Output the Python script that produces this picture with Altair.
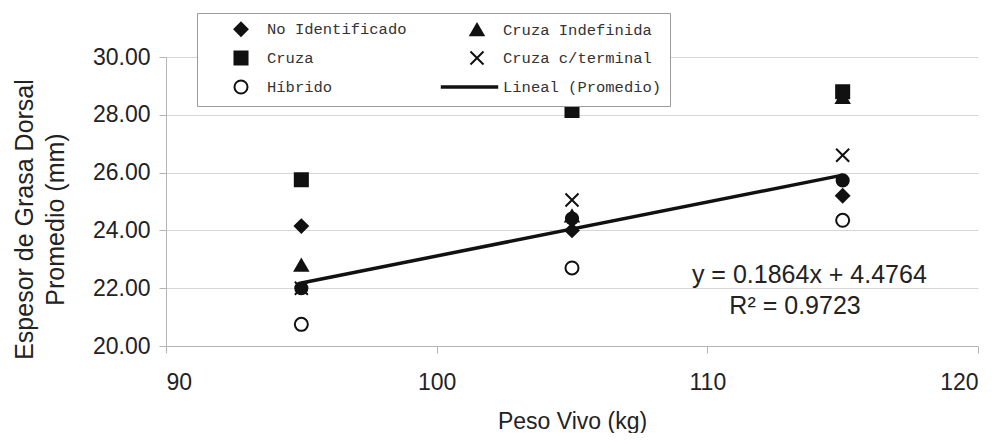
import altair as alt
import pandas as pd

# ---------------- data ----------------
peso = [95, 105, 115]
no_identificado = [24.15, 24.0, 25.2]
cruza_indefinida = [22.8, 24.5, 28.6]
cruza = [25.75, 28.15, 28.8]
cruza_terminal = [22.0, 25.05, 26.6]
hibrido = [20.75, 22.7, 24.35]
promedio = [22.0, 24.41, 25.73]

# legend is filled column by column: left column first, then right column
series_names = ["No Identificado", "Cruza", "Híbrido",
                "Cruza Indefinida", "Cruza c/terminal", "Lineal (Promedio)"]
series_values = [no_identificado, cruza, hibrido, cruza_indefinida, cruza_terminal]

eq_text = ["y = 0.1864x + 4.4764", "R² = 0.9723"]
eq_x = [113.77, 113.24]
eq_y = [22.44, 21.38]

x_ticks = [90, 100, 110, 120]
y_ticks = [20, 22, 24, 26, 28, 30]

# ---------------- tables ----------------
rows = []
for name, vals in zip(series_names[:5], series_values):
    for p, v in zip(peso, vals):
        rows.append({"serie": name, "peso": p, "espesor": v})
df = pd.DataFrame(rows)
df_prom = pd.DataFrame({"peso": peso, "espesor": promedio})
df_eq = pd.DataFrame({"texto": eq_text, "peso": eq_x, "espesor": eq_y})

shapes = ["diamond", "square", "circle", "triangle-up", "M-1,-1L1,1M1,-1L-1,1",
          "M-5.4,-0.12H3.1V0.12H-5.4Z"]
fills = ["#111111", "#111111", "#ffffff", "#111111", "#111111", "#111111"]
strokes = ["#111111"] * 6

FONT = "Liberation Sans"

x_enc = alt.X("peso:Q", scale=alt.Scale(domain=[90, 120], nice=False),
              axis=alt.Axis(values=x_ticks, grid=False, title="Peso Vivo (kg)",
                            labelFontSize=23, titleFontSize=23, labelPadding=18,
                            titlePadding=16, tickSize=7))
y_enc = alt.Y("espesor:Q", scale=alt.Scale(domain=[20, 30], nice=False),
              axis=alt.Axis(values=y_ticks, format=".2f", grid=True,
                            title=["Espesor de Grasa Dorsal", "Promedio (mm)"],
                            labelFontSize=23, titleFontSize=25, labelPadding=9,
                            tickSize=7, titleX=-142, titleY=162, titleAngle=270,
                            titleAlign="center", titleBaseline="middle",
                            titleLineHeight=31))

legend = alt.Legend(title=None, orient="none", legendX=31, legendY=-44, columns=2,
                    columnPadding=30, rowPadding=7, padding=8,
                    strokeColor="#9a9a9a", fillColor="white",
                    labelFont="Liberation Mono", labelFontSize=15.5, labelColor="#333",
                    symbolSize=170, symbolStrokeWidth=2, symbolStrokeColor="#111111",
                    symbolOffset=28, labelOffset=18, labelLimit=300)

points = alt.Chart(df).mark_point(filled=True, stroke="#111111", strokeWidth=2,
                                  size=170, opacity=1).encode(
    x=x_enc, y=y_enc,
    shape=alt.Shape("serie:N", scale=alt.Scale(domain=series_names, range=shapes),
                    legend=legend),
    fill=alt.Fill("serie:N", scale=alt.Scale(domain=series_names, range=fills)),
    stroke=alt.Stroke("serie:N", scale=alt.Scale(domain=series_names, range=strokes)),
)

prom_pts = alt.Chart(df_prom).mark_point(filled=True, shape="circle", size=200,
                                         color="#111111", opacity=1).encode(
    x="peso:Q", y="espesor:Q")

trend = alt.Chart(df_prom).transform_regression("peso", "espesor").mark_line(
    color="#111111", strokeWidth=3.5).encode(x="peso:Q", y="espesor:Q")

eq = alt.Chart(df_eq).mark_text(font=FONT, fontSize=25, color="#222",
                                align="center", baseline="middle").encode(
    x="peso:Q", y="espesor:Q", text="texto:N")

chart = alt.layer(points, prom_pts, trend, eq).properties(
    width=812, height=289,
    autosize=alt.AutoSizeParams(type="none"),
    padding={"left": 158, "top": 49, "right": 14, "bottom": 87},
).configure_view(stroke=None).configure_axis(
    labelFont=FONT, titleFont=FONT, labelColor="#222", titleColor="#222",
    titleFontWeight="normal", domainColor="#b5b5b5", tickColor="#b5b5b5",
    gridColor="#d6d6d6",
)

chart.save("out.html", embed_options={"renderer": "svg", "actions": False})
